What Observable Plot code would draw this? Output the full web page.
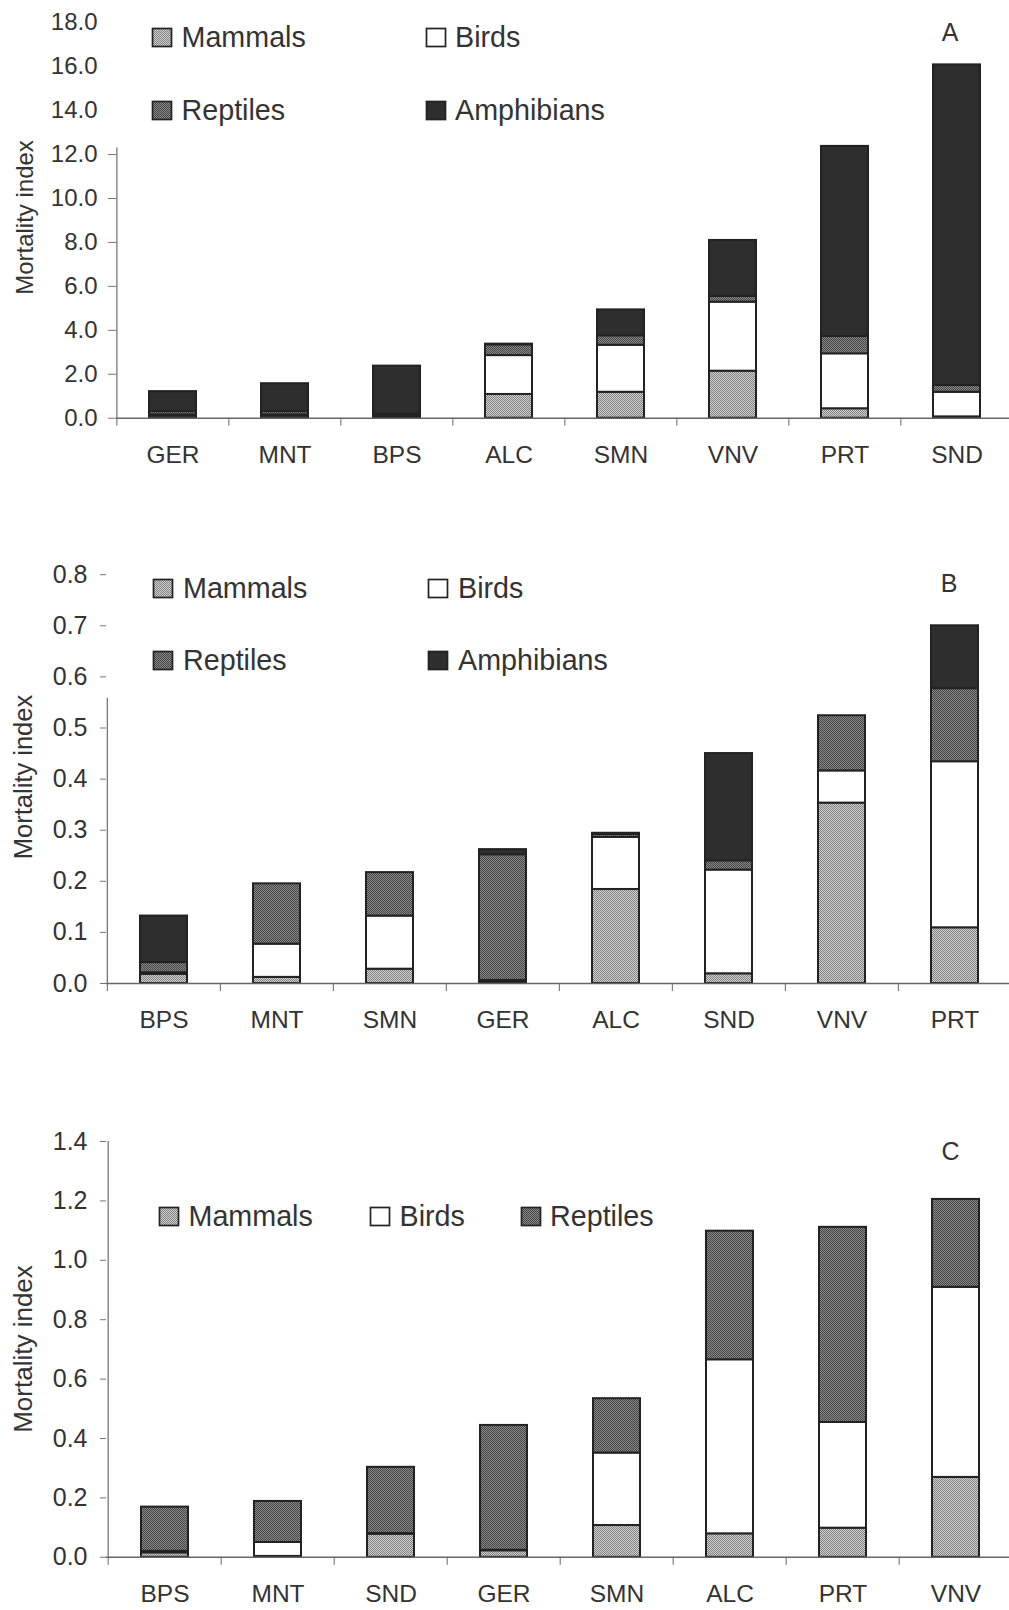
<!DOCTYPE html>
<html><head><meta charset="utf-8">
<script src="https://cdn.jsdelivr.net/npm/d3@7"></script>
<script src="https://cdn.jsdelivr.net/npm/@observablehq/plot@0.6"></script>
<style>
body{margin:0;background:#fff;font-family:"Liberation Sans",Arial,sans-serif;}
#wrap{position:relative;width:1009px;height:1610px;overflow:hidden;background:#fff;}
.panel{position:absolute;left:0;width:1009px;}
.panel > svg{display:block;position:absolute;left:0;top:0;}
</style></head><body>
<svg width="0" height="0" style="position:absolute;left:0;top:0">
<defs>
<pattern id="pm" patternUnits="userSpaceOnUse" width="2" height="2"><rect width="2" height="2" fill="#d0d0d0"/><rect width="1" height="1" fill="#828282"/><rect x="1" y="1" width="1" height="1" fill="#828282"/></pattern>
<pattern id="pr" patternUnits="userSpaceOnUse" width="2" height="2"><rect width="2" height="2" fill="#8a8a8a"/><rect width="1" height="1" fill="#444444"/><rect x="1" y="1" width="1" height="1" fill="#444444"/></pattern>
</defs></svg>
<div id="wrap"></div>
<script>
const W = 1009;
const species = ["Mammals", "Birds", "Reptiles", "Amphibians"];
const speciesFills = ["url(#pm)", "#ffffff", "url(#pr)", "#2e2e2e"];

// Panel A
const sitesA = ["GER", "MNT", "BPS", "ALC", "SMN", "VNV", "PRT", "SND"];
const mammalsA = [0.10, 0.10, 0.05, 1.08, 1.18, 2.14, 0.43, 0.06];
const birdsA = [0.05, 0.05, 0.03, 1.77, 2.14, 3.14, 2.50, 1.12];
const reptilesA = [0.15, 0.15, 0.10, 0.49, 0.43, 0.26, 0.79, 0.31];
const amphibiansA = [0.91, 1.27, 2.19, 0.03, 1.18, 2.55, 8.65, 14.59];
const yTicksA = [0, 2, 4, 6, 8, 10, 12, 14, 16, 18];
const yTickMarksA = [0, 2, 4, 6, 8, 10, 12];

// Panel B
const sitesB = ["BPS", "MNT", "SMN", "GER", "ALC", "SND", "VNV", "PRT"];
const mammalsB = [0.018, 0.012, 0.028, 0.004, 0.184, 0.019, 0.353, 0.109];
const birdsB = [0.003, 0.065, 0.104, 0.002, 0.102, 0.203, 0.063, 0.325];
const reptilesB = [0.020, 0.118, 0.085, 0.246, 0.006, 0.018, 0.108, 0.143];
const amphibiansB = [0.091, 0.000, 0.000, 0.010, 0.002, 0.210, 0.000, 0.123];
const yTicksB = [0, 0.1, 0.2, 0.3, 0.4, 0.5, 0.6, 0.7, 0.8];

// Panel C
const sitesC = ["BPS", "MNT", "SND", "GER", "SMN", "ALC", "PRT", "VNV"];
const mammalsC = [0.015, 0.003, 0.078, 0.022, 0.107, 0.079, 0.098, 0.269];
const birdsC = [0.005, 0.047, 0.002, 0.002, 0.244, 0.586, 0.356, 0.640];
const reptilesC = [0.149, 0.138, 0.223, 0.420, 0.183, 0.433, 0.657, 0.296];
const yTicksC = [0, 0.2, 0.4, 0.6, 0.8, 1.0, 1.2, 1.4];

const FONT = '"Liberation Sans", Arial, Helvetica, sans-serif';

function makePanel(cfg) {
  const {sites, series, yMax, yTicks, yTickMarks, height, mt, mb, ml, mr, axisTop, tickSize, tickPadding, yFont} = cfg;
  const step = (W - ml - mr) / sites.length;
  const data = [];
  sites.forEach((s, i) => series.forEach((vals, j) => {
    if (vals[i] > 0) data.push({site: s, species: species[j], value: vals[i]});
  }));
  return Plot.plot({
    width: W, height,
    marginTop: mt, marginBottom: mb, marginLeft: ml, marginRight: mr,
    style: {fontFamily: FONT, background: "transparent", color: "#333", overflow: "visible"},
    x: {domain: sites, paddingInner: 0.58, paddingOuter: 0.29, label: null},
    y: {domain: [0, yMax], label: null},
    color: {domain: species, range: speciesFills},
    marks: [
      Plot.barY(data, {x: "site", y: "value", fill: "species", stroke: "#222", strokeWidth: 2}),
      Plot.ruleY([0], {stroke: "#666", strokeWidth: 1.6}),
      Plot.ruleX([sites[0]], {dx: -step / 2, y1: 0, y2: axisTop, stroke: "#777", strokeWidth: 1.3}),
      Plot.axisY(yTicks, {tickSize: 0, tickPadding: tickSize + tickPadding, tickFormat: d3.format(".1f"), fontSize: yFont, color: "#333", label: null}),
      Plot.axisY(yTickMarks, {tickSize, tickPadding: 0, tickFormat: () => "", color: "#777", label: null}),
      Plot.axisX(sites, {tickSize: 8, tickFormat: () => "", dx: -step / 2, color: "#666", label: null}),
      Plot.axisX(sites, {tickSize: 0, tickPadding: 27, fontSize: 24.5, color: "#333", label: null})
    ]
  });
}

function overlay(height, cfg) {
  const ns = "http://www.w3.org/2000/svg";
  const svg = document.createElementNS(ns, "svg");
  svg.setAttribute("width", W); svg.setAttribute("height", height);
  svg.style.fontFamily = FONT;
  let s = "";
  s += `<text transform="translate(${cfg.ylab[0]},${cfg.ylab[1]}) rotate(-90)" text-anchor="middle" dominant-baseline="central" font-size="${cfg.ylab[2]}" fill="#333">Mortality index</text>`;
  s += `<text x="${cfg.letter[0]}" y="${cfg.letter[1]}" text-anchor="middle" font-size="25" fill="#333">${cfg.letter[2]}</text>`;
  for (const it of cfg.items) {
    const idx = species.indexOf(it.name);
    s += `<rect x="${it.sx}" y="${it.sy}" width="19" height="18" fill="${speciesFills[idx]}" stroke="#222" stroke-width="1.7"/>`;
    s += `<text x="${it.tx}" y="${it.ty}" font-size="28.7" fill="#333">${it.name}</text>`;
  }
  svg.innerHTML = s;
  return svg;
}

function addPanel(top, height, plotCfg, ovCfg) {
  const div = document.createElement("div");
  div.className = "panel";
  div.style.top = top + "px";
  div.style.height = height + "px";
  div.appendChild(makePanel(Object.assign({height}, plotCfg)));
  div.appendChild(overlay(height, ovCfg));
  document.getElementById("wrap").appendChild(div);
}

// Panel A
addPanel(0, 480, {
  sites: sitesA, series: [mammalsA, birdsA, reptilesA, amphibiansA], yMax: 18,
  yTicks: yTicksA, yTickMarks: yTickMarksA, yFont: 24,
  mt: 22.2, mb: 62.3, ml: 116, mr: -5, axisTop: 12.3, tickSize: 8, tickPadding: 11
}, {
  ylab: [24, 217.5, 24], letter: [950, 41, "A"],
  items: [
    {name: "Mammals", sx: 152.5, sy: 28.5, tx: 181.5, ty: 47},
    {name: "Birds", sx: 426.5, sy: 28.5, tx: 455, ty: 47},
    {name: "Reptiles", sx: 152.5, sy: 101.5, tx: 181.5, ty: 120.3},
    {name: "Amphibians", sx: 426.5, sy: 101.5, tx: 455, ty: 120.3}
  ]
});

// Panel B
addPanel(480, 560, {
  sites: sitesB, series: [mammalsB, birdsB, reptilesB, amphibiansB], yMax: 0.8,
  yTicks: yTicksB, yTickMarks: yTicksB, yFont: 25,
  mt: 94.2, mb: 57, ml: 106, mr: -3.6, axisTop: 0.558, tickSize: 6, tickPadding: 13
}, {
  ylab: [22.5, 297, 25.5], letter: [949, 112, "B"],
  items: [
    {name: "Mammals", sx: 153.5, sy: 99.5, tx: 183, ty: 118},
    {name: "Birds", sx: 428.5, sy: 99.5, tx: 458, ty: 118},
    {name: "Reptiles", sx: 153.5, sy: 171.5, tx: 183, ty: 190},
    {name: "Amphibians", sx: 428.5, sy: 171.5, tx: 458, ty: 190}
  ]
});

// Panel C
addPanel(1040, 570, {
  sites: sitesC, series: [mammalsC, birdsC, reptilesC], yMax: 1.4,
  yTicks: yTicksC, yTickMarks: yTicksC, yFont: 25,
  mt: 101, mb: 53.2, ml: 106, mr: -6, axisTop: 1.4, tickSize: 6, tickPadding: 13
}, {
  ylab: [22.5, 309, 26], letter: [950.5, 120, "C"],
  items: [
    {name: "Mammals", sx: 159.5, sy: 167.5, tx: 188.5, ty: 186},
    {name: "Birds", sx: 370.5, sy: 167.5, tx: 399.5, ty: 186},
    {name: "Reptiles", sx: 521.5, sy: 167.5, tx: 550, ty: 186}
  ]
});
</script>
</body></html>
